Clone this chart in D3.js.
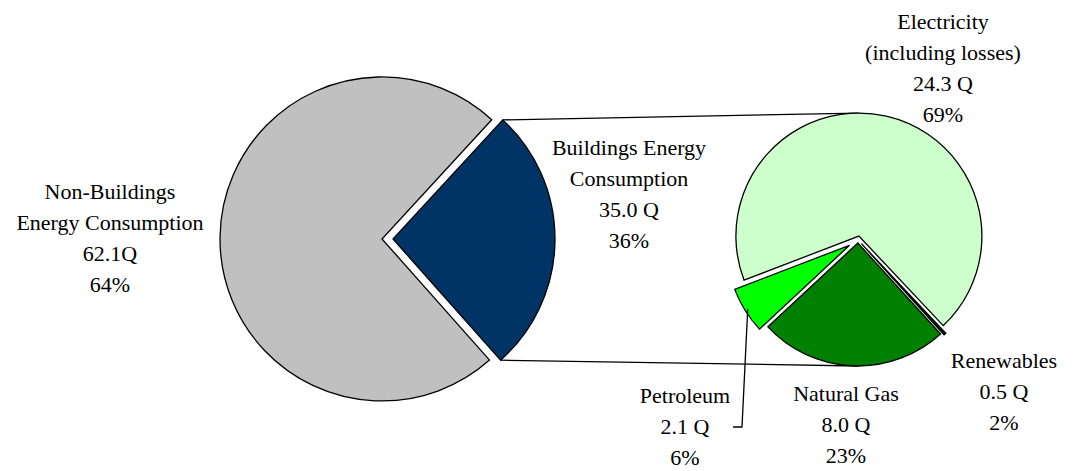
<!DOCTYPE html>
<html>
<head>
<meta charset="utf-8">
<script src="https://cdn.jsdelivr.net/npm/d3@7"></script>
<style>
body { margin: 0; background: #fff; }
</style>
</head>
<body>
<div id="chart-area"></div>
<script>
// Big pie: all energy, split buildings / non-buildings
var bigNames = [["Non-Buildings", "Energy Consumption"], ["Buildings Energy", "Consumption"]];
var bigQuads = ["62.1Q", "35.0 Q"];
var bigPct = ["64%", "36%"];
var bigShare = [73.4, 26.6];   // slice sizes as they are drawn

// Small pie: buildings energy by source
var smallNames = [["Electricity", "(including losses)"], ["Renewables"], ["Natural Gas"], ["Petroleum"]];
var smallQuads = ["24.3 Q", "0.5 Q", "8.0 Q", "2.1 Q"];
var smallPct = ["69%", "2%", "23%", "6%"];
var smallShare = [68.8, 0.3, 24.8, 6.1];

var width = 1082, height = 471;
var lineGap = 31;

var big = { cx: 387, cy: 239, r: 162, start: 138.4,
            colors: ["#C0C0C0", "#003366"], explode: [5, 6] };
var small = { cx: 858, cy: 240, r: 123, start: 249,
              colors: ["#CCFFCC", "#003300", "#008000", "#00FF00"], explode: [4, 5, 3, 10] };

// where each label block sits (centre x, first baseline)
var bigLabelPos = [[110, 199], [629, 155]];
var smallLabelPos = [[943, 29], [1004, 368], [846, 401], [685, 403]];

var svg = d3.select("#chart-area")
    .append("svg")
    .attr("width", width)
    .attr("height", height);

var rad = function(deg) { return deg * Math.PI / 180; };

function layout(p, values) {
    var pie = d3.pie().sort(null).value(d => d)
        .startAngle(rad(p.start))
        .endAngle(rad(p.start) + 2 * Math.PI);
    return pie(values).map((d, i) => {
        var mid = (d.startAngle + d.endAngle) / 2;
        d.ox = p.cx + p.explode[i] * Math.sin(mid);
        d.oy = p.cy - p.explode[i] * Math.cos(mid);
        d.mid = mid;
        return d;
    });
}

var bigArcs = layout(big, bigShare);
var smallArcs = layout(small, smallShare);

// connector lines from the buildings slice to the second pie
var bld = bigArcs[1], elec = smallArcs[0], gas = smallArcs[2];
var links = [
    [[bld.ox + big.r * Math.sin(bld.startAngle), bld.oy - big.r * Math.cos(bld.startAngle)],
     [elec.ox, elec.oy - small.r]],
    [[bld.ox + big.r * Math.sin(bld.endAngle), bld.oy - big.r * Math.cos(bld.endAngle)],
     [gas.ox, gas.oy + small.r]]
];
svg.selectAll("line.link")
    .data(links)
    .enter().append("line")
    .attr("class", "link")
    .attr("x1", d => d[0][0]).attr("y1", d => d[0][1])
    .attr("x2", d => d[1][0]).attr("y2", d => d[1][1])
    .attr("stroke", "#000")
    .attr("stroke-width", 1.3);

function drawPie(p, arcs, cls) {
    var arc = d3.arc().innerRadius(0).outerRadius(p.r);
    svg.selectAll("path." + cls)
        .data(arcs)
        .enter().append("path")
        .attr("class", cls)
        .attr("transform", d => "translate(" + d.ox + "," + d.oy + ")")
        .attr("d", arc)
        .attr("fill", (d, i) => p.colors[i])
        .attr("stroke", "#000")
        .attr("stroke-width", 1.3)
        .attr("stroke-linejoin", "miter");
}
drawPie(big, bigArcs, "big");
drawPie(small, smallArcs, "small");

// petroleum leader line
var pet = smallArcs[3];
var petLbl = smallLabelPos[3];
var leader = [
    [pet.ox + (small.r - 3) * Math.sin(pet.mid), pet.oy - (small.r - 3) * Math.cos(pet.mid)],
    [petLbl[0] + 57, petLbl[1] + lineGap - 7],
    [petLbl[0] + 48, petLbl[1] + lineGap - 7]
];
svg.append("path")
    .attr("d", d3.line()(leader))
    .attr("fill", "none")
    .attr("stroke", "#000")
    .attr("stroke-width", 1.3);

// one text element per line
function drawLabel(lines, pos) {
    lines.forEach((s, i) => {
        svg.append("text")
            .attr("x", pos[0])
            .attr("y", pos[1] + i * lineGap)
            .style("font-family", "'Liberation Serif'")
            .style("font-size", "22px")
            .style("text-anchor", "middle")
            .text(s);
    });
}

bigNames.forEach((n, i) => drawLabel(n.concat([bigQuads[i], bigPct[i]]), bigLabelPos[i]));
smallNames.forEach((n, i) => drawLabel(n.concat([smallQuads[i], smallPct[i]]), smallLabelPos[i]));
</script>
</body>
</html>
